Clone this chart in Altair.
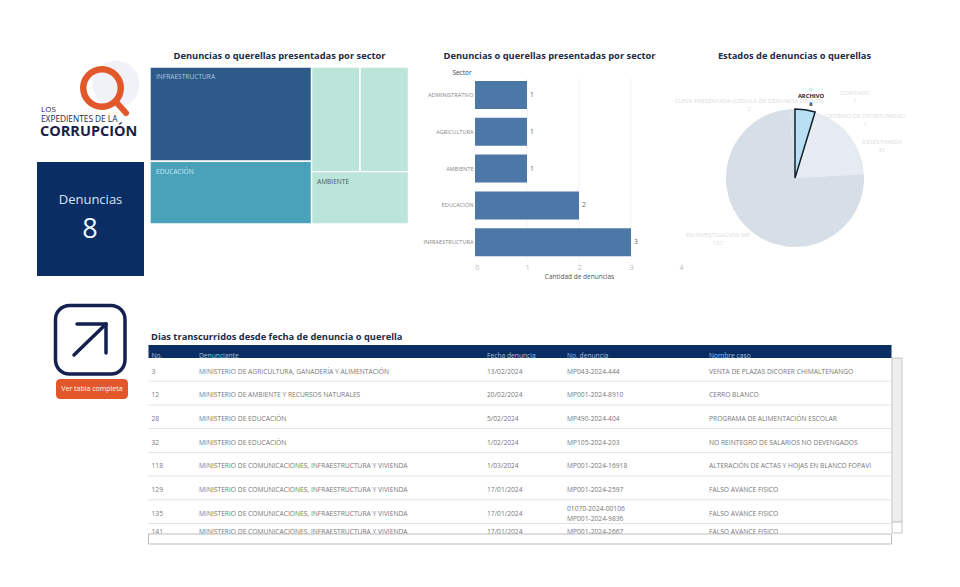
import math
import altair as alt
import pandas as pd

# ---------- data ----------
sectors = ["ADMINISTRATIVO", "AGRICULTURA", "AMBIENTE", "EDUCACIÓN", "INFRAESTRUCTURA"]
sector_counts = [1, 1, 1, 2, 3]
x_ticks = [0, 1, 2, 3, 4]
grid_ticks = [1, 2, 3]

estados = ["ARCHIVO", "CONTADO", "CRITERIO DE OPORTUNIDAD", "DESESTIMADA", "EN INVESTIGACIÓN MP", "CLEVA PRESENTADA"]
estado_counts = [8, 1, 1, 31, 127, 2]
estado_colors = ["#b9e0f2", "#e6ebf1", "#e6ebf1", "#e6ebf1", "#d6dee7", "#d6dee7"]

row_no = ["3", "12", "28", "32", "118", "129", "135", "141"]
row_denunciante = [
    "MINISTERIO DE AGRICULTURA, GANADERÍA Y ALIMENTACIÓN",
    "MINISTERIO DE AMBIENTE Y RECURSOS NATURALES",
    "MINISTERIO DE EDUCACIÓN",
    "MINISTERIO DE EDUCACIÓN",
    "MINISTERIO DE COMUNICACIONES, INFRAESTRUCTURA Y VIVIENDA",
    "MINISTERIO DE COMUNICACIONES, INFRAESTRUCTURA Y VIVIENDA",
    "MINISTERIO DE COMUNICACIONES, INFRAESTRUCTURA Y VIVIENDA",
    "MINISTERIO DE COMUNICACIONES, INFRAESTRUCTURA Y VIVIENDA",
]
row_fecha = ["13/02/2024", "20/02/2024", "5/02/2024", "1/02/2024", "1/03/2024", "17/01/2024", "17/01/2024", "17/01/2024"]
row_numero = ["MP043-2024-444", "MP001-2024-8910", "MP490-2024-404", "MP105-2024-203", "MP001-2024-16918",
              "MP001-2024-2597", "01070-2024-00106\n  MP001-2024-9836", "MP001-2024-2667"]
row_caso = ["VENTA DE PLAZAS DICORER CHIMALTENANGO", "CERRO BLANCO", "PROGRAMA DE ALIMENTACIÓN ESCOLAR",
            "NO REINTEGRO DE SALARIOS NO DEVENGADOS", "ALTERACIÓN DE ACTAS Y HOJAS EN BLANCO FOPAVI",
            "FALSO AVANCE FISICO", "FALSO AVANCE FISICO", "FALSO AVANCE FISICO"]
row_index = [0, 1, 2, 3, 4, 5, 6, 6.76]
header_cols = ["No.", "Denunciante", "Fecha denuncia", "No. denuncia", "Nombre caso"]

# ---------- helpers ----------
FONT = "Open Sans"
ONE = alt.Data(values=[{"a": 1}])
def X(v): return alt.value(v - 8)
def Y(v): return alt.value(v - 8)

def txt(s, x, y, size=6.7, color="#777777", weight="normal", align="left", font=FONT, opacity=1.0):
    return alt.Chart(ONE).mark_text(text=s, fontSize=size, color=color, fontWeight=weight, align=align,
                                    baseline="middle", font=font, opacity=opacity).encode(x=X(x), y=Y(y))

def box(x0, x1, y0, y1, fill, stroke=None, sw=1.0, radius=0):
    kw = dict(fill=fill, cornerRadius=radius)
    if stroke:
        kw.update(stroke=stroke, strokeWidth=sw)
    return alt.Chart(ONE).mark_rect(**kw).encode(x=X(x0), x2=X(x1), y=Y(y0), y2=Y(y1))

def seg(x0, y0, x1, y1, color, w):
    return alt.Chart(ONE).mark_rule(color=color, strokeWidth=w, strokeCap="round").encode(
        x=X(x0), x2=X(x1), y=Y(y0), y2=Y(y1))

layers = []

# ---------- logo ----------
layers.append(alt.Chart(ONE).mark_circle(size=2200, color="#f0f2f8", opacity=1).encode(x=X(116), y=Y(84)))
layers.append(alt.Chart(ONE).mark_arc(innerRadius=15.5, outerRadius=22, color="#e2582a", theta=0, theta2=6.2832)
              .encode(x=X(102), y=Y(88)))
layers.append(seg(117, 103, 126, 113, "#e2582a", 6))
layers.append(txt("LOS", 41, 110, 8, "#23264a"))
layers.append(txt("EXPEDIENTES DE LA", 41, 119.5, 8.3, "#23264a"))
layers.append(txt("CORRUPCIÓN", 40, 132, 14.5, "#1b1f45", "bold"))

# ---------- KPI ----------
layers.append(box(37, 144, 162, 276, "#0a2d63"))
layers.append(txt("Denuncias", 90.5, 200, 13, "#d5e4f2", align="center"))
layers.append(txt("8", 90, 230, 27, "#f2f7fb", align="center"))

# ---------- treemap (computed from the sector counts) ----------
total = sum(sector_counts)
left = sum(sector_counts[3:])
right = sum(sector_counts[:3])
xs = left / total
tm = pd.DataFrame([
    dict(x=0, x2=xs, y=0, y2=3 / left, c="#2e5a8a"),
    dict(x=0, x2=xs, y=3 / left, y2=1, c="#49a1ba"),
    dict(x=xs, x2=xs + (1 - xs) / 2, y=0, y2=2 / right, c="#bae5d8"),
    dict(x=xs + (1 - xs) / 2, x2=1, y=0, y2=2 / right, c="#bae5d8"),
    dict(x=xs, x2=1, y=2 / right, y2=1, c="#bae5d8"),
])
layers.append(alt.Chart(tm).mark_rect(stroke="#ffffff", strokeWidth=1.4).encode(
    x=alt.X("x:Q", axis=None, scale=alt.Scale(domain=[0, 1], range=[150 - 8, 408.5 - 8])),
    x2="x2:Q",
    y=alt.Y("y:Q", axis=None, scale=alt.Scale(domain=[0, 1], range=[67 - 8, 224 - 8])),
    y2="y2:Q",
    color=alt.Color("c:N", scale=None),
))
layers.append(txt("INFRAESTRUCTURA", 156, 76.5, 6.6, "#a9c6e3"))
layers.append(txt("EDUCACIÓN", 156, 171.5, 6.6, "#cdebf2"))
layers.append(txt("AMBIENTE", 317, 181.5, 6.6, "#4a5a58"))
layers.append(txt("Denuncias o querellas presentadas por sector", 279.5, 55.5, 9.3, "#1d2b44", "bold", "center"))

# ---------- bars ----------
bar_df = pd.DataFrame({"sector": sectors, "n": sector_counts})
grid_df = pd.DataFrame({"g": grid_ticks})
bx = alt.Scale(domain=[0, 4], range=[475 - 8, 683 - 8])
by = alt.Scale(domain=sectors, range=[76.6 - 8, 260.6 - 8], paddingInner=0.24, paddingOuter=0.12)
layers.append(alt.Chart(grid_df).mark_rule(color="#f3f3f3", strokeWidth=1).encode(
    x=alt.X("g:Q", scale=bx, axis=None), y=Y(78), y2=Y(260)))
layers.append(alt.Chart(bar_df).mark_bar(color="#4d77a6", size=28).encode(
    x=alt.X("n:Q", scale=bx,
            axis=alt.Axis(values=x_ticks, grid=False, domain=False, ticks=False, labelColor="#b5b5b5", labelFontSize=6.5,
                          labelFont=FONT, labelPadding=0, format="d", title="Cantidad de denuncias", titleFont=FONT,
                          titleFontSize=6.5, titleFontWeight="normal", titleColor="#555555", titlePadding=3,
                          offset=-(579 - 264))),
    y=alt.Y("sector:N", scale=by, sort=sectors,
            axis=alt.Axis(title=None, grid=False, domain=False, ticks=False, labelColor="#888888", labelFontSize=5.6,
                          labelFont=FONT, labelPadding=2, offset=-(475 - 8))),
))
layers.append(alt.Chart(bar_df).mark_text(align="left", dx=3, fontSize=6.8, color="#666666", font=FONT).encode(
    x=alt.X("n:Q", scale=bx, axis=None), y=alt.Y("sector:N", scale=by, sort=sectors, axis=None), text="n:Q"))
layers.append(txt("Sector", 462, 72.5, 6.5, "#444444", align="center"))
layers.append(txt("Denuncias o querellas presentadas por sector", 549.5, 55.5, 9.3, "#1d2b44", "bold", "center"))

# ---------- pie ----------
pie_total = sum(estado_counts)
cum = [sum(estado_counts[:i]) for i in range(len(estado_counts) + 1)]
pie = pd.DataFrame({"estado": estados, "s": cum[:-1], "e": cum[1:], "c": estado_colors})
th = alt.Scale(domain=[0, pie_total], range=[0, 2 * math.pi])
layers.append(alt.Chart(pie).mark_arc(outerRadius=69).encode(
    theta=alt.Theta("s:Q", scale=th), theta2="e:Q", color=alt.Color("c:N", scale=None), x=X(795), y=Y(178)))
layers.append(alt.Chart(pie[pie.estado == "ARCHIVO"]).mark_arc(outerRadius=69, stroke="#10202c", strokeWidth=1.5).encode(
    theta=alt.Theta("s:Q", scale=th), theta2="e:Q", color=alt.Color("c:N", scale=None), x=X(795), y=Y(178)))
layers.append(txt("Estados de denuncias o querellas", 794.5, 55.5, 9.3, "#1d2b44", "bold", "center"))
layers.append(txt("ARCHIVO", 811, 96, 5.8, "#222222", "bold", "center"))
layers.append(txt("8", 811, 103.5, 5.8, "#222222", "bold", "center"))
layers.append(alt.Chart(ONE).mark_point(shape="diamond", size=12, color="#999999", strokeWidth=0.6).encode(x=X(811), y=Y(89.5)))
pale = "#dcdcdc"
for label, value, x, y in [("CONTADO", "1", 855, 92.5),
                           ("CRITERIO DE OPORTUNIDAD", "1", 865, 116),
                           ("DESESTIMADA", "31", 882, 142),
                           ("CLEVA PRESENTADA (CEDULA DE DENUNCIA DE GOT)", "2", 749, 101),
                           ("EN INVESTIGACIÓN MP", "127", 718, 235)]:
    layers.append(txt(label, x, y, 6.0, pale, align="center"))
    layers.append(txt(value, x, y + 8, 6.0, pale, align="center"))

# ---------- icon ----------
layers.append(box(55.5, 125, 305.5, 374, "#ffffff", "#14204f", 3.5, 14))
layers.append(seg(74, 355, 106, 324, "#14204f", 3.5))
layers.append(seg(77, 324, 106, 324, "#14204f", 3.5))
layers.append(seg(106, 324, 106, 353, "#14204f", 3.5))
layers.append(box(56, 128, 379, 399, "#e2582a", radius=4))
layers.append(txt("Ver tabla completa", 92, 389, 7, "#fff3e8", align="center"))

# ---------- table ----------
layers.append(txt("Dias transcurridos desde fecha de denuncia o querella", 151, 336.5, 9.3, "#1d2b44", "bold"))
layers.append(box(148.5, 891.5, 345, 358, "#0a2d63"))
col_x = [151.5, 199, 487, 567, 709]
for name, x in zip(header_cols, col_x):
    layers.append(txt(name, x, 355.5, 6.7, "#a8bfdc"))
layers.append(box(148.5, 891.5, 358, 534, "#ffffff"))

table = pd.DataFrame({"row": row_index, "no": row_no, "den": row_denunciante, "fecha": row_fecha,
                      "caso": row_caso})
num_rows = []
for r, n in zip(row_index, row_numero):
    parts = n.split("\n")
    if len(parts) == 2:
        num_rows += [{"row": r - 0.21, "num": parts[0]}, {"row": r + 0.21, "num": parts[1]}]
    else:
        num_rows.append({"row": r, "num": n})
num_table = pd.DataFrame(num_rows)
ry = alt.Scale(domain=[0, 7], range=[371.5 - 8, 537.5 - 8])
sep = pd.DataFrame({"r": [r + 0.41 for r in row_index[:-1]]})
layers.append(alt.Chart(sep).mark_rule(color="#e3e3e3", strokeWidth=1).encode(
    y=alt.Y("r:Q", scale=ry, axis=None), x=X(148.5), x2=X(891.5)))
for field, x, df in [("no", col_x[0], table), ("den", col_x[1], table), ("fecha", col_x[2], table),
                     ("num", col_x[3], num_table), ("caso", col_x[4], table)]:
    layers.append(alt.Chart(df).mark_text(align="left", baseline="middle", fontSize=6.7, color="#777777",
                                          font=FONT).encode(
        x=X(x), y=alt.Y("row:Q", scale=ry, axis=None), text=f"{field}:N"))
layers.append(box(148.5, 891.5, 534, 544, "#ffffff", "#bdbdbd", 1))
layers.append(box(892, 902, 358, 522, "#efefef", "#c4c4c4", 1))
layers.append(box(892, 902, 522, 533, "#ffffff", "#c4c4c4", 1))

chart = alt.layer(*layers).resolve_scale(x="independent", y="independent", theta="independent",
                                         color="independent").properties(
    width=944, height=571, padding=0, autosize=alt.AutoSizeParams(type="none"), background="#ffffff"
).configure_view(stroke=None)

chart.save("out.html", embed_options={"renderer": "svg", "actions": False})
